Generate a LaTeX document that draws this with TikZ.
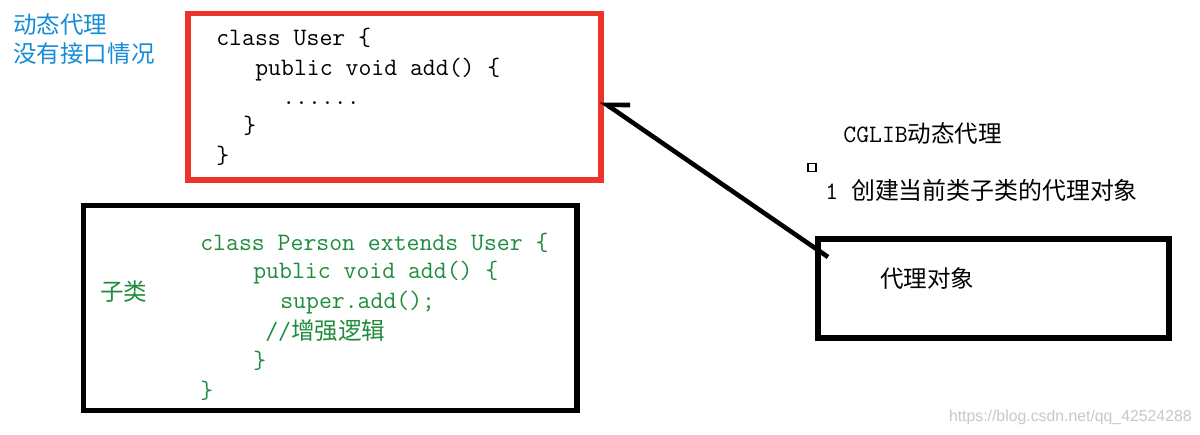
\documentclass[tikz,border=0pt]{standalone}
\usepackage{fontspec}
\newfontfamily\cjk{Noto Sans CJK SC}
\newfontfamily\webfont{Liberation Sans}
\usetikzlibrary{arrows.meta}
\definecolor{boxred}{RGB}{238,52,42}
\definecolor{notegreen}{RGB}{30,140,60}
\definecolor{noteblue}{RGB}{22,140,214}
\definecolor{markgray}{RGB}{200,200,200}
\newcommand\zh[1]{{\cjk\fontsize{13.4}{16}\selectfont #1}}
\tikzset{redbox/.style={draw=boxred,line width=3.2pt,outer sep=0pt},
         blackbox/.style={draw,line width=3.1pt,outer sep=0pt},
         code/.style={anchor=base west,inner sep=0pt,font=\fontsize{14.25}{17}\ttfamily},
         note/.style={anchor=base west,inner sep=0pt,font=\cjk\fontsize{13.4}{16.5}\selectfont},
         tinybox/.style={draw,line width=0.7pt,minimum size=0.16cm,inner sep=0pt},
         watermark/.style={anchor=base east,inner sep=0pt,text=markgray,font=\webfont\fontsize{9}{11}\selectfont},
        }

\begin{document}
\begin{tikzpicture}[x=0.02cm,y=-0.02cm]
        \path[use as bounding box,fill=white](0,0)rectangle(1200,434);

        \node[note,text=noteblue,align=left](heading)at(13,62.5){动态代理\\没有接口情况};

        \node[redbox,minimum width=8.26cm,minimum height=3.33cm](user)at(394.5,96.75){};
        \node[code](u1)at(216,45){class User \{};
        \node[code](u2)at(255,75){public void add() \{};
        \node[code](u3)at(282,104){......};
        \node[code](u4)at(243,133){\}};
        \node[code](u5)at(216,163){\}};

        \node[blackbox,minimum width=9.87cm,minimum height=4.1cm](person)at(330.25,308){};
        \node[note,text=notegreen](sub)at(100,300.5){子类};
        \node[code,text=notegreen](p1)at(200,250){class Person extends User \{};
        \node[code,text=notegreen](p2)at(253,278){public void add() \{};
        \node[code,text=notegreen](p3)at(280,308){super.add();};
        \node[code,text=notegreen](p4)at(265,339){//\zh{增强逻辑}};
        \node[code,text=notegreen](p5)at(253,368){\}};
        \node[code,text=notegreen](p6)at(200,398){\}};

        \node[code](cglib)at(843,142.5){CGLIB\zh{动态代理}};
        \node[tinybox](dot)at(812,167.5){};
        \node[code](step1)at(825,199.5){1 {\cjk\fontsize{13.6}{16}\selectfont 创建当前类子类的代理对象}};

        \node[blackbox,minimum width=7.02cm,minimum height=1.98cm](proxy)at(993.5,288.5){};
        \node[note](proxytext)at(880,287.5){代理对象};

        \coordinate(tail)at([shift={(10,18)}]proxy.north west);
        \draw[line width=2.6pt,-{Straight Barb[right,length=10.8pt,width=14.8pt]}](tail)--([yshift=-0.08cm]user.east);

        \node[watermark](site)at(1192,421){https://blog.csdn.net/qq\_42524288};
    \end{tikzpicture}
\end{document}
